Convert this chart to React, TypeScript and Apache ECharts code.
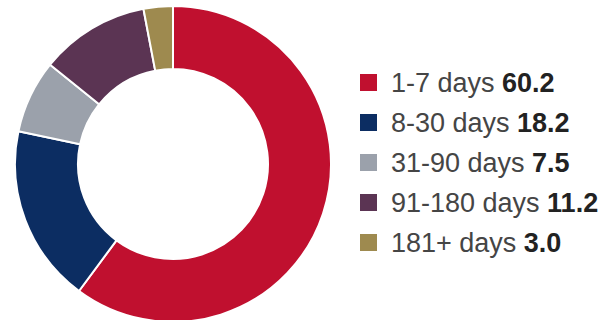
import React, { useEffect, useRef } from "react";
import * as echarts from "echarts";

const categories = ["1-7 days", "8-30 days", "31-90 days", "91-180 days", "181+ days"];
const values = [60.2, 18.2, 7.5, 11.2, 3.0];
const colors = ["#C0102F", "#0C2D62", "#9BA1AB", "#5B3453", "#9E8A4F"];

export default function App() {
  const ref = useRef<HTMLDivElement>(null);
  useEffect(() => {
    document.body.style.margin = "0";
    const chart = echarts.init(ref.current!, null, { renderer: "svg" });
    const data = categories.map((name, i) => ({
      name,
      value: values[i],
      itemStyle: { color: colors[i] },
    }));
    const ff = "Liberation Sans, Arial, sans-serif";
    chart.setOption({
      animation: false,
      backgroundColor: "#ffffff",
      legend: {
        orient: "vertical",
        left: 358,
        top: 69,
        padding: 0,
        itemWidth: 19,
        itemHeight: 19,
        itemGap: 13,
        icon: "rect",
        data: categories,
        formatter: (name: string) => {
          const i = categories.indexOf(name);
          return `{n|${name}} {v|${values[i].toFixed(1)}}`;
        },
        textStyle: {
          fontFamily: ff,
          fontSize: 27,
          color: "#444",
          padding: [0, 0, 0, 8],
          rich: {
            n: { fontSize: 27, color: "#454545", fontFamily: ff, lineHeight: 27 },
            v: { fontSize: 27, color: "#222", fontWeight: "bold", fontFamily: ff, lineHeight: 27 },
          },
        },
      },
      series: [
        {
          type: "pie",
          center: [173, 164],
          radius: [95, 158],
          startAngle: 90,
          clockwise: true,
          label: { show: false },
          labelLine: { show: false },
          itemStyle: { borderColor: "#ffffff", borderWidth: 2 },
          emphasis: { disabled: true },
          data,
        },
      ],
    });
    return () => chart.dispose();
  }, []);
  return (
    <div
      ref={ref}
      style={{ position: "absolute", left: 0, top: 0, width: 606, height: 320 }}
    />
  );
}
